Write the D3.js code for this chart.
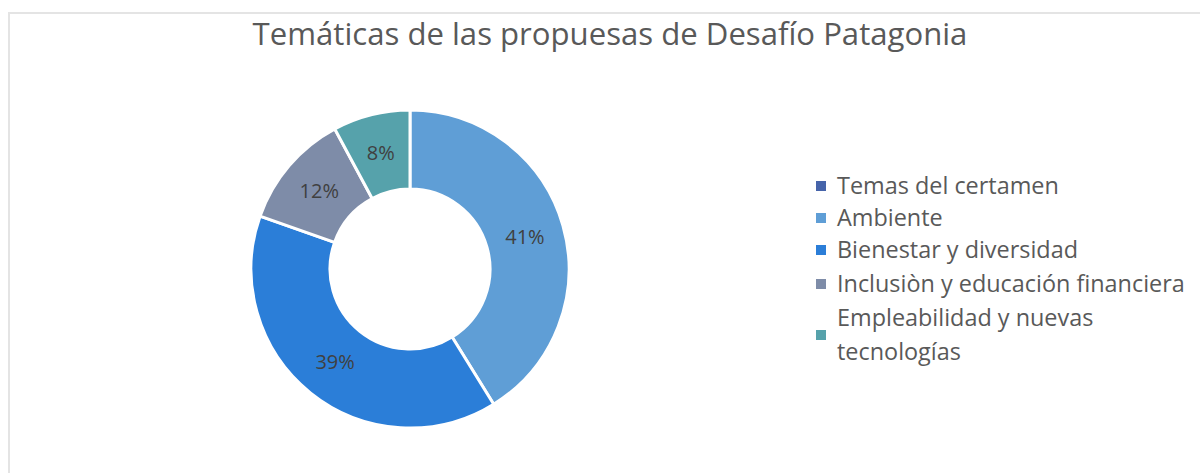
<!DOCTYPE html>
<html><head><meta charset="utf-8">
<script src="https://cdn.jsdelivr.net/npm/d3@7"></script>
<style>html,body{margin:0;padding:0;background:#fff;}svg{display:block;}</style>
</head><body>
<svg id="c" width="1200" height="473"></svg>
<script>
const categories = ["Temas del certamen","Ambiente","Bienestar y diversidad","Inclusiòn y educación financiera","Empleabilidad y nuevas tecnologías"];
const values = [0, 21, 20, 6, 4];
const colors = ["#4664aa","#5f9ed6","#2b7ed8","#7e8ca8","#56a2ab"];
const title = "Temáticas de las propuesas de Desafío Patagonia";

const svg = d3.select("#c");
// frame
svg.append("path").attr("d","M9,480 L9,13 L1210,13").attr("fill","none").attr("stroke","#e4e4e4").attr("stroke-width",2);

const font = "'Open Sans', 'Noto Sans', sans-serif";
const t = svg.append("text").attr("x",610).attr("y",45).attr("text-anchor","middle")
  .attr("font-family",font).attr("font-size",28).attr("fill","#595959").text(title);
const tw = t.node().getComputedTextLength();
t.attr("font-size", 28*715/tw);

const cx = 410, cy = 269, rO = 159, rI = 80;
const total = d3.sum(values);
const pie = d3.pie().sort(null).value(d=>d)(values);
const arc = d3.arc().innerRadius(rI).outerRadius(rO);
const g = svg.append("g").attr("transform",`translate(${cx},${cy})`);
g.selectAll("path.s").data(pie).join("path").attr("class","s")
  .attr("d",arc).attr("fill",(d,i)=>colors[i]).attr("stroke","#fff").attr("stroke-width",3)
  .style("display",d=>d.value>0?null:"none");
g.selectAll("text.l").data(pie.filter(d=>d.value>0)).join("text").attr("class","l")
  .attr("transform",d=>`translate(${arc.centroid(d)})`).attr("text-anchor","middle").attr("dy","0.36em")
  .attr("font-family",font).attr("font-size",20).attr("fill","#404040")
  .text(d=>d3.format(".0%")(d.value/total));

// legend
const lg = svg.append("g");
// measure font size so the longest entry matches the reference width
const probe = lg.append("text").attr("font-family",font).attr("font-size",20).text(categories[3]);
const lfs = 20*348/probe.node().getComputedTextLength();
probe.remove();
const rows = [{y:186,lines:[categories[0]]},{y:218,lines:[categories[1]]},{y:250,lines:[categories[2]]},{y:284,lines:[categories[3]]},{y:335,lines:["Empleabilidad y nuevas","tecnologías"]}];
rows.forEach((r,i)=>{
  lg.append("rect").attr("x",816).attr("y",r.y-5).attr("width",10).attr("height",10).attr("fill",colors[i]);
  const n = r.lines.length;
  r.lines.forEach((ln,j)=>{
    lg.append("text").attr("x",837).attr("y",r.y + (j-(n-1)/2)*34).attr("dy","0.35em")
      .attr("font-family",font).attr("font-size",lfs).attr("fill","#595959").text(ln);
  });
});
</script>
</body></html>
